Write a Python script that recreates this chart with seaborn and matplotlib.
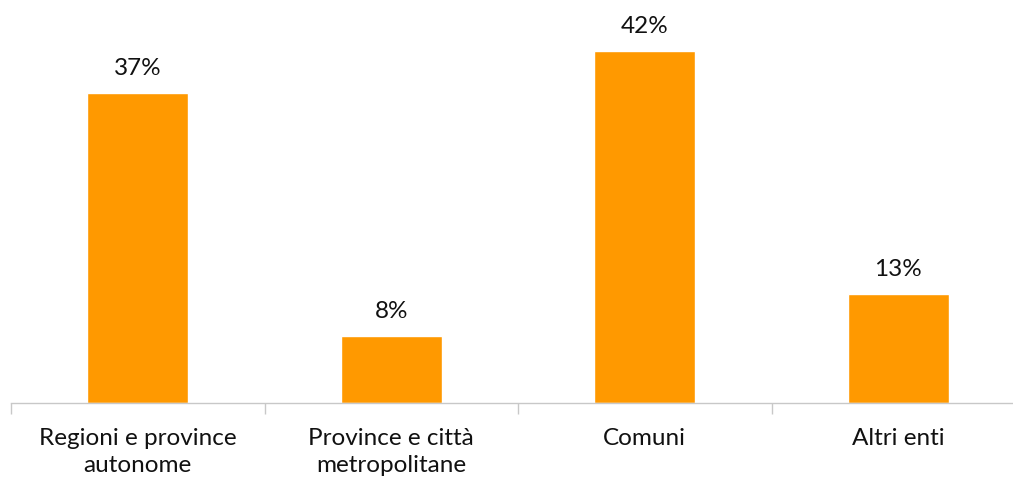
import matplotlib
matplotlib.use("Agg")
import matplotlib.pyplot as plt
import seaborn as sns
import pandas as pd

categories = ["Regioni e province\nautonome", "Province e città\nmetropolitane", "Comuni", "Altri enti"]
values = [37, 8, 42, 13]

sns.set_style("white")
plt.rcParams["font.family"] = ["Lato", "DejaVu Sans"]

df = pd.DataFrame({"ente": categories, "quota": values})

fig = plt.figure(figsize=(10.13, 4.84), dpi=100)
ax = fig.add_axes([11 / 1013, 81 / 484, 1002 / 1013, 377 / 484])

sns.barplot(data=df, x="ente", y="quota", color="#FF9900", width=0.4,
            saturation=1, ax=ax)

for c in ax.containers:
    ax.bar_label(c, labels=[f"{v}%" for v in values], padding=10,
                 fontsize=17.5, color="#111111")

ax.set_ylim(0, 45)
ax.set_xlim(-0.5, 3.5 - 12 / 253.5)
ax.set_yticks([])
ax.set_xlabel("")
ax.set_ylabel("")
ax.set_xticks([-0.5, 0.5, 1.5, 2.5], minor=True)
ax.tick_params(axis="x", which="minor", bottom=True, length=8,
               color="#C8C8C8", width=1)
ax.tick_params(axis="x", which="major", bottom=True, length=0, pad=18,
               labelsize=17.5, labelcolor="#111111")
for lbl in ax.get_xticklabels():
    lbl.set_linespacing(1.35)
for side in ["top", "right", "left"]:
    ax.spines[side].set_visible(False)
ax.spines["bottom"].set_color("#C8C8C8")
ax.spines["bottom"].set_linewidth(1)

fig.savefig("out.png", dpi=100)
